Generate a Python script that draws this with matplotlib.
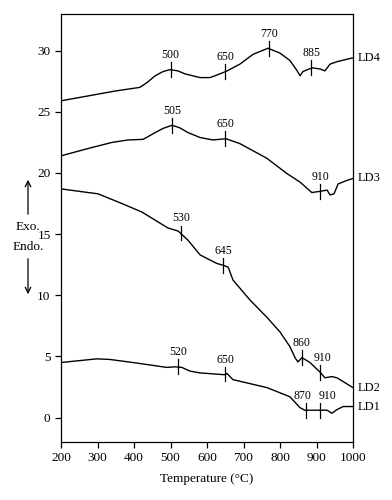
import matplotlib
matplotlib.use("Agg")
import matplotlib.pyplot as plt
from matplotlib.patches import FancyArrowPatch

plt.rcParams['font.family'] = ['Liberation Serif', 'DejaVu Serif']

# LD4
ld4_t = [200, 274, 348, 416, 436, 458, 480, 499, 520, 540, 581, 608, 622, 652, 690, 726, 767, 800, 827, 846, 855, 863, 888, 910, 923, 937, 956, 997, 1000]
ld4_y = [25.9, 26.3, 26.7, 27.0, 27.4, 27.95, 28.3, 28.45, 28.35, 28.1, 27.8, 27.8, 27.95, 28.3, 28.9, 29.7, 30.2, 29.8, 29.2, 28.4, 27.95, 28.3, 28.6, 28.5, 28.35, 28.9, 29.1, 29.4, 29.4]
# LD3
ld3_t = [200, 274, 340, 384, 425, 458, 480, 504, 525, 548, 581, 616, 652, 690, 764, 819, 855, 887, 910, 929, 937, 948, 959, 984, 1000]
ld3_y = [21.4, 22.0, 22.5, 22.7, 22.75, 23.3, 23.65, 23.9, 23.7, 23.3, 22.9, 22.7, 22.8, 22.4, 21.2, 19.95, 19.25, 18.4, 18.5, 18.6, 18.2, 18.3, 19.1, 19.4, 19.55]
# LD2
ld2_t = [200, 274, 301, 367, 422, 493, 521, 548, 581, 627, 644, 658, 671, 718, 764, 800, 827, 841, 849, 860, 882, 910, 923, 942, 956, 997, 1000]
ld2_y = [18.7, 18.4, 18.3, 17.5, 16.8, 15.5, 15.25, 14.5, 13.3, 12.6, 12.45, 12.3, 11.25, 9.6, 8.2, 7.0, 5.8, 4.9, 4.55, 4.9, 4.5, 3.7, 3.25, 3.35, 3.25, 2.5, 2.45]
# LD1
ld1_t = [200, 298, 334, 397, 490, 512, 531, 553, 581, 649, 655, 671, 764, 827, 855, 868, 910, 929, 942, 956, 973, 997, 1000]
ld1_y = [4.5, 4.8, 4.75, 4.5, 4.1, 4.15, 4.1, 3.8, 3.65, 3.5, 3.6, 3.1, 2.45, 1.7, 0.8, 0.6, 0.6, 0.6, 0.35, 0.65, 0.9, 0.9, 0.9]

series_names = ['LD4', 'LD3', 'LD2', 'LD1']

# peak markers: temperature, curve value at marker
ld4_peaks = [500, 650, 770, 885]
ld4_peak_y = [28.45, 28.3, 30.2, 28.6]
ld3_peaks = [505, 650, 910]
ld3_peak_y = [23.9, 22.8, 18.5]
ld2_peaks = [530, 645, 860, 910]
ld2_peak_y = [15.1, 12.45, 4.9, 3.7]
ld1_peaks = [520, 650, 870, 910]
ld1_peak_y = [4.15, 3.55, 0.6, 0.6]

xticks = [200, 300, 400, 500, 600, 700, 800, 900, 1000]
yticks = [0, 5, 10, 15, 20, 25, 30]

fig = plt.figure(figsize=(3.92, 5.0), dpi=100)
ax = fig.add_axes([0.1556, 0.116, 0.745, 0.856])

curves = [(ld4_t, ld4_y, ld4_peaks, ld4_peak_y),
          (ld3_t, ld3_y, ld3_peaks, ld3_peak_y),
          (ld2_t, ld2_y, ld2_peaks, ld2_peak_y),
          (ld1_t, ld1_y, ld1_peaks, ld1_peak_y)]

# small horizontal nudges (points) for crowded labels
label_dx = {('LD1', 870): -2, ('LD1', 910): 5, ('LD2', 910): 2}

for name, (t, y, pk, pky) in zip(series_names, curves):
    ax.plot(t, y, color='black', lw=1.0, solid_joinstyle='round', solid_capstyle='round')
    for p, py in zip(pk, pky):
        ax.plot([p, p], [py - 0.6, py + 0.6], color='black', lw=0.9)
        ax.annotate(str(p), xy=(p, py + 0.7), xytext=(label_dx.get((name, p), 0), 0),
                    textcoords='offset points', ha='center', va='bottom', fontsize=8.5)
    ax.annotate(name, xy=(1.0, y[-1]), xycoords=('axes fraction', 'data'),
                xytext=(3, 0), textcoords='offset points', ha='left', va='center',
                fontsize=9, annotation_clip=False)

ax.set_xlim(200, 1000)
ax.set_ylim(-2, 33)
ax.set_xticks(xticks)
ax.set_yticks(yticks)
ax.tick_params(direction='out', length=4, width=0.9, labelsize=9.5, top=False, right=False)
for s in ax.spines.values():
    s.set_linewidth(0.9)
ax.set_xlabel('Temperature (°C)', fontsize=9.5, labelpad=6)

# Exo / Endo markers
fig.text(28 / 392, 1 - 227 / 500, 'Exo.', ha='center', va='center', fontsize=9.5)
fig.text(28 / 392, 1 - 247 / 500, 'Endo.', ha='center', va='center', fontsize=9.5)
fig.add_artist(FancyArrowPatch((28 / 392, 1 - 217 / 500), (28 / 392, 1 - 177 / 500),
               transform=fig.transFigure, arrowstyle='->', mutation_scale=10, lw=0.9, color='black'))
fig.add_artist(FancyArrowPatch((28 / 392, 1 - 256 / 500), (28 / 392, 1 - 297 / 500),
               transform=fig.transFigure, arrowstyle='->', mutation_scale=10, lw=0.9, color='black'))

fig.savefig('out.png', dpi=100)
